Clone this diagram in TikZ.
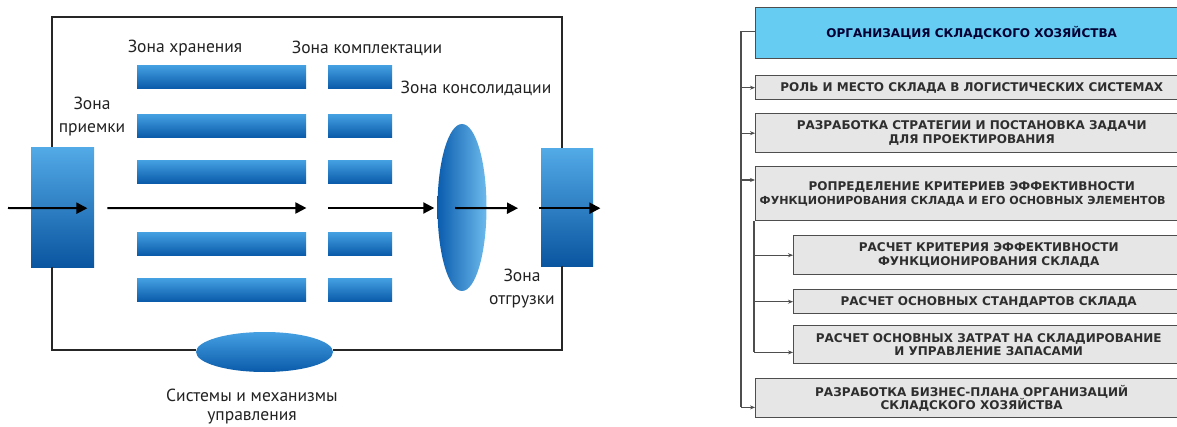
\documentclass[tikz,border=0pt]{standalone}
\usepackage{fontspec}
\setmainfont{PT Sans}
\newfontfamily\rfont{DejaVu Sans}
\usetikzlibrary{arrows.meta,calc,shapes.geometric}
\definecolor{barTop}{HTML}{45A0E2}
\definecolor{barBot}{HTML}{0A5BAA}
\definecolor{boxTop}{HTML}{52AAE6}
\definecolor{boxBot}{HTML}{0A55A0}
\definecolor{ellL}{HTML}{0A5CAE}
\definecolor{ellR}{HTML}{6CBAEC}
\definecolor{lbl}{HTML}{222222}
\definecolor{gfill}{HTML}{E6E6E6}
\definecolor{gline}{HTML}{4E4E4E}
\definecolor{cfill}{HTML}{66CCF2}
\definecolor{gtext}{HTML}{2E2E2E}
\begin{document}
\begin{tikzpicture}[x=1pt,y=-1pt,
  bar/.style={rectangle,draw=none,inner sep=0,anchor=north west,minimum height=23,top color=barTop,bottom color=barBot},
  zonebox/.style={rectangle,draw=none,inner sep=0,anchor=north west,top color=boxTop,bottom color=boxBot},
  zlabel/.style={font=\fontsize{17.5}{23}\selectfont,text=lbl,align=center,inner sep=0},
  frame/.style={line width=2,draw=black!85},
  flow/.style={line width=2,-{Triangle[length=11,width=11]}},
  gbox/.style={rectangle,draw=gline,line width=1.4,fill=gfill,inner sep=0,anchor=north west,
    text=gtext,font=\rfont\bfseries\fontsize{12}{13.5}\selectfont,align=center},
  conn/.style={draw=gline,line width=1.3},
  carrow/.style={conn,-{Stealth[length=5,width=4]}}
]
\clip (0,0) rectangle (1177,427);
\fill[white] (0,0) rectangle (1177,427);

% ---------- left diagram ----------
\node[zonebox,minimum width=63,minimum height=120] (recv) at (31,147) {};
\node[zonebox,minimum width=52,minimum height=118] (ship) at (541,148) {};

\node[bar,minimum width=169] (s1) at (137,65) {};
\node[bar,minimum width=169] (s2) at (137,114) {};
\node[bar,minimum width=169] (s3) at (137,160) {};
\node[bar,minimum width=169] (s4) at (137,232) {};
\node[bar,minimum width=169] (s5) at (137,278) {};
\node[bar,minimum width=64] (k1) at (328,65) {};
\node[bar,minimum width=64] (k2) at (328,114) {};
\node[bar,minimum width=64] (k3) at (328,160) {};
\node[bar,minimum width=64] (k4) at (328,232) {};
\node[bar,minimum width=64] (k5) at (328,278) {};

\node[ellipse,draw=none,inner sep=0,minimum width=49,minimum height=167,left color=ellL,right color=ellR] (cons) at (462,207.5) {};
\node[ellipse,draw=none,inner sep=0,minimum width=137,minimum height=40,top color=barTop,bottom color=barBot] (ctrl) at (264.5,352) {};

\coordinate (ftl) at (52,17);
\coordinate (ftr) at (562,17);
\coordinate (fbl) at (52,350);
\coordinate (fbr) at (562,350);
\draw[frame] (recv.north -| ftl) -- (ftl) -- (ftr) -- (ship.north -| ftr);
\draw[frame] (recv.south -| fbl) -- (fbl) -- (ctrl.west |- fbl);
\draw[frame] (ctrl.east |- fbr) -- (fbr) -- (ship.south -| fbr);

\coordinate (in) at (8,208);
\draw[flow] (in) -- ($(recv.east)+(-7,1)$);
\draw[flow] ($(recv.east)+(13,1)$) -- (s3.east |- in);
\draw[flow] (k3.west |- in) -- ($(cons.west |- in)+(-3,0)$);
\draw[flow] ($(cons.center)+(-7,0.5)$) -- ($(ship.west)+(-23,1)$);
\draw[flow] ($(ship.west)+(-2,1)$) -- ($(ship.east)+(7,1)$);

\node[zlabel] (lst) at (185,48) {Зона хранения};
\node[zlabel] (lkm) at (367,48) {Зона комплектации};
\node[zlabel] (lcn) at (476,88) {Зона консолидации};
\node[zlabel] (lrc) at (92,116.5) {Зона\\приемки};
\node[zlabel] (lsh) at (522,288.5) {Зона\\отгрузки};
\node[zlabel,anchor=north,font=\fontsize{17.5}{19}\selectfont] (lct) at (252,389) {Системы и механизмы\\управления};

% ---------- right diagram ----------
\node[gbox,fill=cfill,minimum width=432,minimum height=51,text=black!80!blue] (t0) at (755,7) {ОРГАНИЗАЦИЯ СКЛАДСКОГО ХОЗЯЙСТВА};
\node[gbox,minimum width=432,minimum height=24] (b1) at (755,75) {РОЛЬ И МЕСТО СКЛАДА В ЛОГИСТИЧЕСКИХ СИСТЕМАХ};
\node[gbox,minimum width=432,minimum height=39] (b2) at (755,113) {РАЗРАБОТКА СТРАТЕГИИ И ПОСТАНОВКА ЗАДАЧИ\\ДЛЯ ПРОЕКТИРОВАНИЯ};
\node[gbox,minimum width=432,minimum height=54] (b3) at (755,166) {РОПРЕДЕЛЕНИЕ КРИТЕРИЕВ ЭФФЕКТИВНОСТИ\\{\fontsize{11.1}{13.5}\selectfont\hspace*{-18pt}ФУНКЦИОНИРОВАНИЯ СКЛАДА И ЕГО ОСНОВНЫХ ЭЛЕМЕНТОВ}};
\node[gbox,minimum width=390,minimum height=39] (b4) at (793,235) {РАСЧЕТ КРИТЕРИЯ ЭФФЕКТИВНОСТИ\\ФУНКЦИОНИРОВАНИЯ СКЛАДА};
\node[gbox,minimum width=390,minimum height=24] (b5) at (793,289) {РАСЧЕТ ОСНОВНЫХ СТАНДАРТОВ СКЛАДА};
\node[gbox,minimum width=390,minimum height=38] (b6) at (793,325) {РАСЧЕТ ОСНОВНЫХ ЗАТРАТ НА СКЛАДИРОВАНИЕ\\И УПРАВЛЕНИЕ ЗАПАСАМИ};
\node[gbox,minimum width=432,minimum height=39] (b7) at (755,378) {РАЗРАБОТКА БИЗНЕС-ПЛАНА ОРГАНИЗАЦИЙ\\СКЛАДСКОГО ХОЗЯЙСТВА};

\coordinate (bx) at (741,0);
\coordinate (e7) at ($(b7.south west)+(0,-11)$);
\coordinate (e3) at ($(b3.north west)+(0,14)$);
\draw[conn] ($(t0.west)+(0,-1.5)$) -- ($(t0.west -| bx)+(0,-1.5)$) -- (e7 -| bx);
\draw[carrow] (b1.west -| bx) -- (b1.west);
\draw[carrow] (b2.west -| bx) -- (b2.west);
\draw[carrow] (e3 -| bx) -- (e3);
\draw[carrow] (e7 -| bx) -- (e7);

\coordinate (sx) at ($(b3.south west)+(-1,0)$);
\coordinate (e6) at ($(b6.south west)+(0,-12)$);
\draw[conn] (sx) -- (e6 -| sx);
\draw[carrow] (b4.west -| sx) -- (b4.west);
\draw[carrow] (b5.west -| sx) -- (b5.west);
\draw[carrow] (e6 -| sx) -- (e6);
\end{tikzpicture}
\end{document}
